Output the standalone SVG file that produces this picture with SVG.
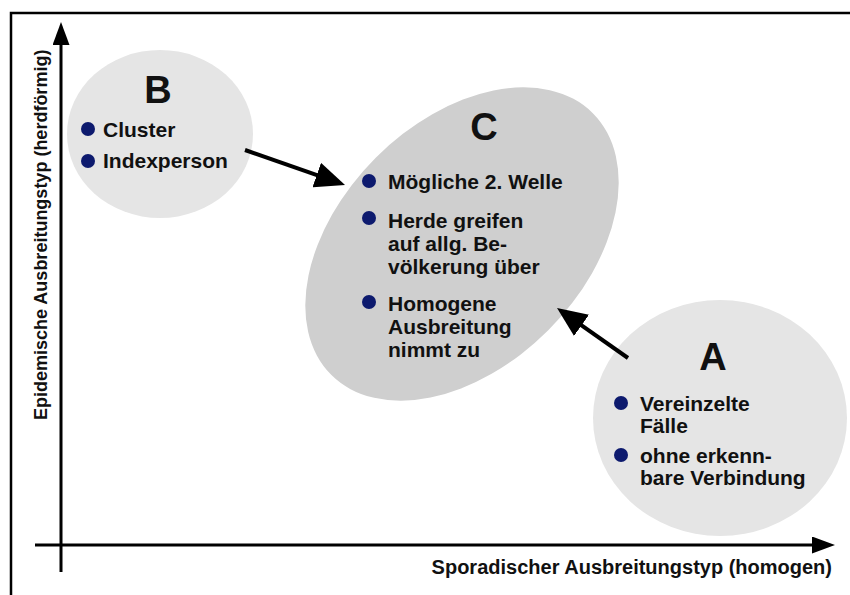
<svg xmlns="http://www.w3.org/2000/svg" width="850" height="595" viewBox="0 0 850 595">
<style>
text{font-family:"Liberation Sans",Arial,sans-serif;font-weight:bold;fill:#111}
.big{font-size:38px;text-anchor:middle}
.item{font-size:21px}
.ax{font-size:18px}
.axx{font-size:20px}
.dot{fill:#0d1a6e}
.light{fill:#e5e5e5}
.dark{fill:#cfcfcf}
.conn{stroke:#000;stroke-width:4;fill:none}
.axis{stroke:#000;stroke-width:3;fill:none}
</style>
<defs>
<marker id="head" viewBox="0 0 30 26" refX="20" refY="13" markerWidth="30" markerHeight="26" markerUnits="userSpaceOnUse" orient="auto"><path d="M0,0 L30,13 L0,26 z" fill="#000"/></marker>
<marker id="axhead" viewBox="0 0 23 17" refX="13" refY="8.5" markerWidth="23" markerHeight="17" markerUnits="userSpaceOnUse" orient="auto"><path d="M0,0 L23,8.5 L0,17 z" fill="#000"/></marker>
</defs>
<rect width="850" height="595" fill="#fff"/>
<g id="frame"><path d="M11,595 L11,13 L850,13" stroke="#000" stroke-width="2.5" fill="none"/></g>
<g id="node-B">
<ellipse class="light" cx="160" cy="134" rx="93" ry="84"/>
<text class="big" x="158" y="103">B</text>
<circle class="dot" cx="88" cy="129" r="7"/>
<text class="item" x="103" y="137">Cluster</text>
<circle class="dot" cx="88" cy="161" r="7"/>
<text class="item" x="103" y="168">Indexperson</text>
</g>
<g id="node-C">
<ellipse class="dark" cx="462" cy="244" rx="185" ry="122" transform="rotate(-45 462 244)"/>
<text class="big" x="484" y="140">C</text>
<circle class="dot" cx="369" cy="181" r="7"/>
<text class="item" x="388" y="189">Mögliche 2. Welle</text>
<circle class="dot" cx="369" cy="218" r="7"/>
<text class="item" x="388" y="228">Herde greifen</text>
<text class="item" x="388" y="251">auf allg. Be-</text>
<text class="item" x="388" y="274">völkerung über</text>
<circle class="dot" cx="369" cy="302" r="7"/>
<text class="item" x="388" y="311">Homogene</text>
<text class="item" x="388" y="334">Ausbreitung</text>
<text class="item" x="388" y="357">nimmt zu</text>
</g>
<g id="node-A">
<ellipse class="light" cx="720" cy="418" rx="127" ry="118"/>
<text class="big" x="713" y="370">A</text>
<circle class="dot" cx="621" cy="403" r="7"/>
<text class="item" x="640" y="411">Vereinzelte</text>
<text class="item" x="640" y="433">Fälle</text>
<circle class="dot" cx="621" cy="455" r="7"/>
<text class="item" x="640" y="463">ohne erkenn-</text>
<text class="item" x="640" y="485">bare Verbindung</text>
</g>
<g id="axes">
<line class="axis" x1="61" y1="572" x2="61" y2="32" marker-end="url(#axhead)"/>
<line class="axis" x1="35" y1="545" x2="825" y2="545" marker-end="url(#axhead)"/>
<text class="axx" x="832" y="574" text-anchor="end">Sporadischer Ausbreitungstyp (homogen)</text>
<text class="ax" transform="translate(47,420) rotate(-90)">Epidemische Ausbreitungstyp (herdförmig)</text>
</g>
<g id="connectors">
<line class="conn" x1="245" y1="150" x2="335.6" y2="181.7" marker-end="url(#head)"/>
<line class="conn" x1="628" y1="358" x2="565.2" y2="313.8" marker-end="url(#head)"/>
</g>
</svg>
